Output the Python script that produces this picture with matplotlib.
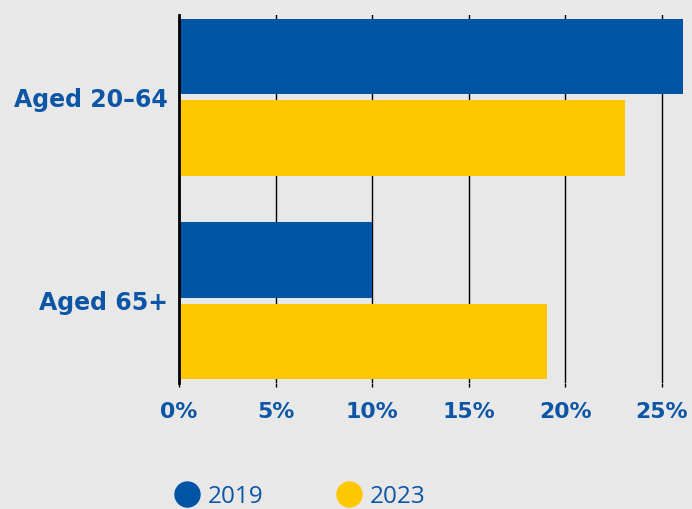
import matplotlib
matplotlib.use('Agg')
import numpy as np
import matplotlib.pyplot as plt
from matplotlib.lines import Line2D

### Data
groups = ['Aged 20\u201364', 'Aged 65+']
years = ['2019', '2023']
values_2019 = [26.1, 10.0]
values_2023 = [23.1, 19.05]
xticks = [0, 5, 10, 15, 20, 25]

### Style
bg = '#e8e8e8'
blue = '#0054a6'
yellow = '#ffc700'
text_blue = '#0d56a6'
plt.rcParams['font.family'] = ['DejaVu Sans']

fig = plt.figure(figsize=(6.92, 5.09), dpi=100)
fig.patch.set_facecolor(bg)
ax = fig.add_axes([179 / 692, 126 / 509, 513 / 692, 368 / 509])
ax.set_facecolor(bg)

y = np.arange(len(groups))
h = 0.37
off = 0.2
ax.barh(y - off, values_2019, height=h, color=blue, zorder=3)
ax.barh(y + off, values_2023, height=h, color=yellow, zorder=3)

ax.set_xlim(0, 26.55)
ax.set_ylim(1.405, -0.405)
ax.set_xticks(xticks)
ax.set_xticklabels(['{}%'.format(t) for t in xticks])
ax.set_yticks(y)
ax.set_yticklabels(groups)

ax.grid(axis='x', color='black', linewidth=1, zorder=0)
for s in ['top', 'right', 'bottom']:
    ax.spines[s].set_visible(False)
ax.spines['left'].set_linewidth(2)
ax.spines['left'].set_color('black')
ax.spines['left'].set_zorder(4)

ax.tick_params(axis='x', length=3, width=1, color='black', pad=11,
               labelsize=15.8, labelcolor=text_blue)
ax.tick_params(axis='y', length=0, pad=8, labelsize=17, labelcolor=text_blue)
for lab in ax.get_xticklabels() + ax.get_yticklabels():
    lab.set_fontweight('bold')

### Legend
handles = [Line2D([], [], marker='o', linestyle='none', markersize=18,
                  markerfacecolor=c, markeredgecolor=c)
           for c in [blue, yellow]]
leg = fig.legend(handles, years, loc='center left',
                 bbox_to_anchor=(151 / 692, 1 - 497 / 509), ncol=2,
                 frameon=False, handletextpad=0.25, columnspacing=2.9,
                 handlelength=1.2, prop={'family': 'Open Sans', 'size': 17.5})
for t in leg.get_texts():
    t.set_color(text_blue)

fig.savefig('out.png', dpi=100, facecolor=bg)
plt.close(fig)
